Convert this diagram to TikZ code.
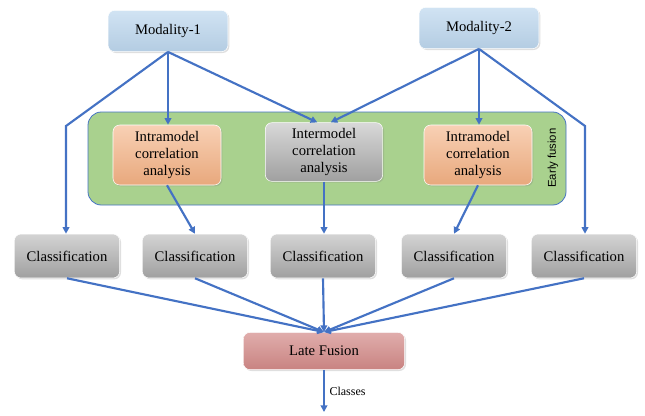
\documentclass[tikz,border=0pt]{standalone}
\usepackage{fontspec}
\setmainfont{Liberation Serif}
\newfontfamily\labelsans{Liberation Sans}
\usetikzlibrary{arrows.meta,shadows}
\definecolor{arrowblue}{HTML}{4472C4}
\definecolor{modblue}{HTML}{BDD7EE}
\definecolor{intraorange}{HTML}{F4B183}
\definecolor{boxgrey}{HTML}{A8A8A8}
\definecolor{fusionred}{HTML}{D38A88}
\definecolor{earlygreen}{HTML}{A9D18E}
\begin{document}
\begin{tikzpicture}[x=0.75pt,y=-0.75pt,
    every node/.style={font=\fontsize{11}{12.5}\selectfont},
    bevelbox/.style={rounded corners=5pt, inner sep=2pt, align=center,
        draw=white, line width=0.4pt, drop shadow={opacity=0.25,shadow xshift=1pt,shadow yshift=-1pt}},
    modbox/.style={bevelbox, top color=modblue!70, bottom color=modblue!95!black,
        minimum width=90pt, minimum height=31pt},
    intrabox/.style={bevelbox, top color=intraorange!60, bottom color=intraorange!95!black,
        minimum width=81pt, minimum height=45pt},
    interbox/.style={bevelbox, top color=boxgrey!45, bottom color=boxgrey!95!black,
        minimum width=88pt, minimum height=44pt},
    classbox/.style={bevelbox, top color=boxgrey!50, bottom color=boxgrey!95!black,
        minimum width=79pt, minimum height=33pt},
    fusionbox/.style={bevelbox, top color=fusionred!70, bottom color=fusionred!95!black,
        minimum width=121pt, minimum height=28pt},
    link/.style={draw=arrowblue, line width=1.6pt, -{Triangle[length=5pt,width=5pt]}}]
\useasboundingbox (0,0) rectangle (645,415);
% early fusion panel
\draw[rounded corners=10pt, fill=earlygreen, draw=arrowblue, line width=0.6pt]
    (88,112) rectangle (566,205);
\node[rotate=90, font=\labelsans\fontsize{8.5}{10}\selectfont] (early) at (553,158) {Early fusion};
% modalities
\node[modbox] (mod1) at (168,31) {Modality-1};
\node[modbox] (mod2) at (479,28) {Modality-2};
% correlation analysis
\node[intrabox] (intra1) at (167,155) {Intramodel\\correlation\\analysis};
\node[interbox] (inter) at (324,152) {Intermodel\\correlation\\analysis};
\node[intrabox] (intra2) at (478,155) {Intramodel\\correlation\\analysis};
% classifiers
\node[classbox] (cls1) at (67,256) {Classification};
\node[classbox] (cls2) at (195,256) {Classification};
\node[classbox] (cls3) at (323,256) {Classification};
\node[classbox] (cls4) at (454,256) {Classification};
\node[classbox] (cls5) at (584,256) {Classification};
\node[fusionbox] (late) at (324,351) {Late Fusion};
\coordinate (bendL) at (66,126);
\coordinate (bendR) at (585,126);
\coordinate (out) at (324,412);
% modality links
\draw[link] (mod1.south) -- (bendL) -- (cls1.north -| bendL);
\draw[link] (mod1.south) -- (intra1.north -| mod1.south);
\draw[link] (mod1.south) -- ([xshift=-5pt]inter.north);
\draw[link] (mod2.south) -- ([xshift=5pt]inter.north);
\draw[link] (mod2.south) -- (intra2.north -| mod2.south);
\draw[link] (mod2.south) -- (bendR) -- (cls5.north -| bendR);
% analysis to classifiers
\draw[link] (intra1.south) -- (cls2.north);
\draw[link] (inter.south) -- (cls3.north -| inter.south);
\draw[link] (intra2.south) -- (cls4.north);
% classifiers to late fusion
\foreach \c in {cls1,cls2,cls3,cls4,cls5}
    \draw[link] (\c.south) -- (late.north);
\draw[link] (late.south) -- node[right, font=\fontsize{9}{10}\selectfont] {Classes} (out);
\end{tikzpicture}
\end{document}
